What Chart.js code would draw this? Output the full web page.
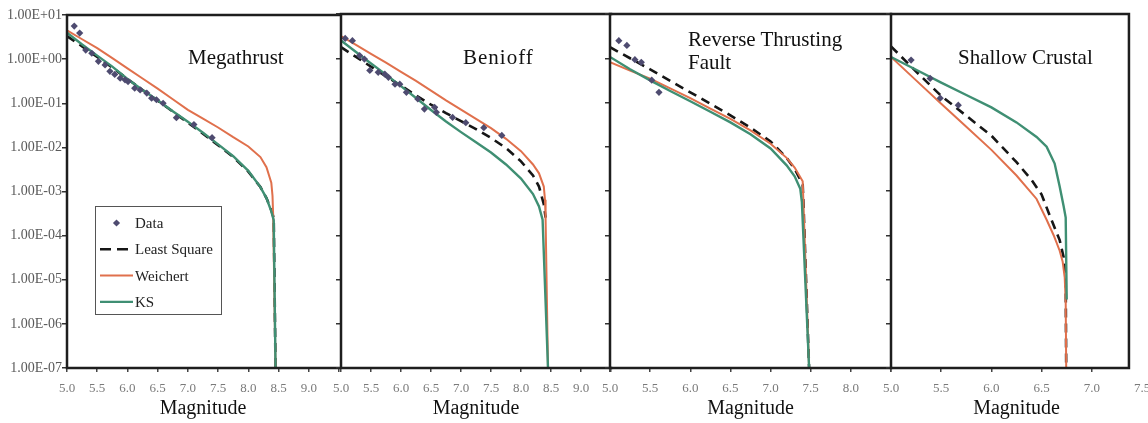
<!DOCTYPE html>
<html><head><meta charset="utf-8">
<script src="https://cdn.jsdelivr.net/npm/chart.js@4.4.0/dist/chart.umd.min.js"></script>
<style>
html,body{margin:0;padding:0;background:#fff;overflow:hidden;width:1148px;height:423px;}
#wrap{position:relative;width:1148px;height:423px;overflow:hidden;background:#fff;}
canvas{position:absolute;left:0;top:0;}
.ttl{position:absolute;font-family:'Liberation Serif','Times New Roman',serif;font-size:21px;color:#111;line-height:23px;white-space:nowrap;}
</style></head><body>
<div id="wrap">
<canvas id="c1" width="1170" height="423"></canvas>
<canvas id="c2" width="1170" height="423"></canvas>
<canvas id="c3" width="1170" height="423"></canvas>
<canvas id="c4" width="1170" height="423"></canvas>
<div class="ttl" style="left:188px;top:46px">Megathrust</div>
<div class="ttl" style="left:463px;top:46px;letter-spacing:1px">Benioff</div>
<div class="ttl" style="left:688px;top:28px">Reverse Thrusting<br>Fault</div>
<div class="ttl" style="left:958px;top:46px">Shallow Crustal</div>
</div>
<script>
// ---------- tick labels ----------
const yTickValues = [1e-7,1e-6,1e-5,1e-4,1e-3,1e-2,1e-1,1e0,1e1];
const yTickLabels = ['1.00E-07','1.00E-06','1.00E-05','1.00E-04','1.00E-03','1.00E-02','1.00E-01','1.00E+00','1.00E+01'];
const xTicksWide = [5.0,5.5,6.0,6.5,7.0,7.5,8.0,8.5,9.0,9.5];
const xLabelsWide = ['5.0','5.5','6.0','6.5','7.0','7.5','8.0','8.5','9.0',''];
const xTicksRev = [5.0,5.5,6.0,6.5,7.0,7.5,8.0,8.5];
const xLabelsRev = ['5.0','5.5','6.0','6.5','7.0','7.5','8.0',''];
const xTicksShallow = [5.0,5.5,6.0,6.5,7.0,7.5];
const xLabelsShallow = ['5.0','5.5','6.0','6.5','7.0','7.5'];
const seriesNames = ['Data','Least Square','Weichert','KS'];
const xAxisTitle = 'Magnitude';

// ---------- Megathrust ----------
const megaDataMag = [5.12,5.21,5.31,5.41,5.52,5.63,5.71,5.79,5.88,5.96,6.01,6.12,6.21,6.32,6.40,6.48,6.59,6.81,7.10,7.40];
const megaDataRate = [5.6,3.9,1.6,1.36,0.89,0.74,0.53,0.45,0.37,0.34,0.31,0.22,0.20,0.17,0.13,0.12,0.10,0.047,0.033,0.0166];
const megaLsMag = [5.0,5.25,5.5,5.75,6.0,6.25,6.5,6.75,7.0,7.25,7.5,7.75,8.0,8.2,8.3,8.38,8.42,8.45];
const megaLsRate = [3.31,1.95,1.12,0.646,0.355,0.200,0.115,0.0646,0.0363,0.0204,0.0112,0.00603,0.00282,0.00126,0.000708,0.000380,0.000251,1e-7];
const megaWeiMag = [5.0,5.25,5.5,5.75,6.0,6.25,6.5,6.75,7.0,7.25,7.5,7.75,8.0,8.2,8.3,8.38,8.4,8.41,8.45];
const megaWeiRate = [4.47,2.82,1.78,1.05,0.617,0.363,0.214,0.123,0.0708,0.0447,0.0282,0.0170,0.0105,0.00603,0.00355,0.00158,0.000794,0.000316,1e-7];
const megaKsMag = [5.0,5.25,5.5,5.75,6.0,6.25,6.5,6.75,7.0,7.25,7.5,7.75,8.0,8.2,8.3,8.38,8.42,8.45];
const megaKsRate = [3.98,2.14,1.20,0.676,0.355,0.200,0.117,0.0661,0.0380,0.0214,0.0117,0.00631,0.00295,0.00126,0.000708,0.000355,0.000224,1e-7];

// ---------- Benioff ----------
const benDataMag = [5.07,5.19,5.31,5.39,5.48,5.62,5.73,5.79,5.90,5.98,6.09,6.28,6.39,6.56,6.59,6.86,7.08,7.38,7.68];
const benDataRate = [2.8,2.5,1.15,0.96,0.53,0.48,0.44,0.37,0.26,0.26,0.17,0.12,0.071,0.078,0.06,0.046,0.035,0.027,0.018];
const benLsMag = [5.0,5.25,5.5,5.75,6.0,6.25,6.5,6.75,7.0,7.25,7.5,7.75,8.0,8.2,8.3,8.38,8.41];
const benLsRate = [1.78,1.07,0.646,0.389,0.240,0.145,0.0891,0.0575,0.0380,0.0251,0.0158,0.00933,0.00468,0.00224,0.00126,0.000501,0.000251];
const benWeiMag = [5.0,5.25,5.5,5.75,6.0,6.25,6.5,6.75,7.0,7.25,7.5,7.75,8.0,8.2,8.3,8.38,8.4,8.41,8.45];
const benWeiRate = [3.16,2.00,1.26,0.794,0.490,0.309,0.186,0.112,0.0692,0.0427,0.0263,0.0151,0.00794,0.00398,0.00251,0.00126,0.000631,0.000229,1e-7];
const benKsMag = [5.0,5.25,5.5,5.75,6.0,6.25,6.5,6.75,7.0,7.25,7.5,7.75,8.0,8.2,8.3,8.36,8.45];
const benKsRate = [2.51,1.38,0.759,0.427,0.234,0.126,0.0676,0.0372,0.0214,0.0126,0.00741,0.00398,0.00191,0.000851,0.000447,0.000224,1e-7];

// ---------- Reverse Thrusting Fault ----------
const revDataMag = [5.11,5.21,5.31,5.39,5.52,5.61];
const revDataRate = [2.5,1.95,0.93,0.81,0.32,0.17];
const revLsMag = [5.0,5.25,5.5,5.75,6.0,6.25,6.5,6.75,7.0,7.2,7.3,7.4,7.41,7.48];
const revLsRate = [1.78,1.00,0.562,0.309,0.170,0.0933,0.0513,0.0269,0.0132,0.00562,0.00316,0.00141,0.000501,1e-7];
const revWeiMag = [5.0,5.25,5.5,5.75,6.0,6.25,6.5,6.75,7.0,7.2,7.3,7.4,7.41,7.48];
const revWeiRate = [0.813,0.525,0.347,0.209,0.126,0.0724,0.0427,0.0234,0.0117,0.00562,0.00339,0.00166,0.000501,1e-7];
const revKsMag = [5.0,5.25,5.5,5.75,6.0,6.25,6.5,6.75,7.0,7.2,7.3,7.37,7.39,7.48];
const revKsRate = [1.07,0.562,0.316,0.182,0.107,0.0617,0.0355,0.0191,0.00912,0.00380,0.00214,0.00112,0.000562,1e-7];

// ---------- Shallow Crustal ----------
const shaDataMag = [5.2,5.39,5.49,5.67];
const shaDataRate = [0.91,0.35,0.125,0.087];
const shaLsMag = [5.0,5.25,5.5,5.75,6.0,6.25,6.4,6.5,6.58,6.68,6.72,6.74,6.745];
const shaLsRate = [1.85,0.501,0.141,0.0501,0.0178,0.00447,0.00178,0.000832,0.000282,7.76e-5,3.16e-5,1e-5,1e-7];
const shaWeiMag = [5.0,5.25,5.5,5.75,6.0,6.25,6.45,6.55,6.62,6.68,6.71,6.73,6.74,6.745];
const shaWeiRate = [1.07,0.316,0.0933,0.0282,0.00851,0.00224,0.000661,0.000224,0.0001,4.47e-5,2.51e-5,1.12e-5,3.16e-6,1e-7];
const shaKsMag = [5.0,5.25,5.5,5.75,6.0,6.25,6.45,6.55,6.63,6.68,6.72,6.74,6.75];
const shaKsRate = [1.07,0.550,0.282,0.148,0.0776,0.0355,0.0166,0.0100,0.00417,0.00126,0.000447,0.000251,3.55e-6];

// ---------- styling ----------
const COL = {data:'#4e4b70', ls:'#161616', wei:'#e0704c', ks:'#3f8f73', axis:'#1e1e1e'};
const SERIF = "'Liberation Serif','Times New Roman',serif";
const pts = (m, v) => m.map((x, i) => ({x, y: v[i]}));

function datasets(dm, dr, lm, lr, wm, wr, km, kr) {
  return [
    {label: seriesNames[0], data: pts(dm, dr), showLine: false, pointStyle: 'rectRot', pointRadius: 3.6,
     backgroundColor: COL.data, borderWidth: 0, order: 0},
    {label: seriesNames[3], data: pts(km, kr), showLine: true, borderColor: COL.ks, borderWidth: 2.4,
     pointRadius: 0, tension: 0, order: 1},
    {label: seriesNames[2], data: pts(wm, wr), showLine: true, borderColor: COL.wei, borderWidth: 2,
     pointRadius: 0, tension: 0, order: 2},
    {label: seriesNames[1], data: pts(lm, lr), showLine: true, borderColor: COL.ls, borderWidth: 2.6,
     borderDash: [9, 6], pointRadius: 0, tension: 0, order: 3}
  ];
}

const framePlugin = {
  id: 'frame',
  afterDatasetsDraw(chart, args, opts) {
    const {ctx, chartArea: a, scales: {x}} = chart;
    const r = opts.rightValue != null ? x.getPixelForValue(opts.rightValue) : a.right;
    ctx.save();
    ctx.strokeStyle = COL.axis; ctx.lineWidth = 2.5; ctx.lineCap = 'square';
    ctx.beginPath();
    ctx.moveTo(r, a.top); ctx.lineTo(a.left, a.top); ctx.lineTo(a.left, a.bottom); ctx.lineTo(r, a.bottom);
    if (opts.drawRight) { ctx.moveTo(r, a.top); ctx.lineTo(r, a.bottom); }
    ctx.stroke();
    ctx.restore();
  }
};

const legendPlugin = {
  id: 'boxLegend',
  afterDraw(chart, args, opts) {
    if (!opts.show) return;
    const {ctx, chartArea: a} = chart;
    const x0 = a.left + 28, y0 = a.top + 191, w = 126, h = 108;
    ctx.save();
    ctx.fillStyle = '#fff'; ctx.fillRect(x0, y0, w, h);
    ctx.strokeStyle = '#555'; ctx.lineWidth = 1; ctx.strokeRect(x0 + 0.5, y0 + 0.5, w, h);
    ctx.font = '15px ' + SERIF; ctx.textBaseline = 'middle'; ctx.fillStyle = '#222';
    seriesNames.forEach((name, i) => {
      const ds = chart.data.datasets.find(d => d.label === name);
      const cy = y0 + 17 + i * 26.3;
      const sx0 = x0 + 5, sx1 = x0 + 38;
      if (ds.showLine === false) {
        ctx.save(); ctx.fillStyle = ds.backgroundColor;
        ctx.beginPath(); const cx = (sx0 + sx1) / 2, r = 3.6;
        ctx.moveTo(cx, cy - r); ctx.lineTo(cx + r, cy); ctx.lineTo(cx, cy + r); ctx.lineTo(cx - r, cy); ctx.closePath(); ctx.fill();
        ctx.restore();
      } else {
        ctx.save(); ctx.strokeStyle = ds.borderColor; ctx.lineWidth = ds.borderWidth;
        ctx.setLineDash(ds.borderDash ? [11, 6] : []);
        ctx.beginPath(); ctx.moveTo(sx0, cy); ctx.lineTo(sx1, cy); ctx.stroke(); ctx.restore();
      }
      ctx.fillStyle = '#222';
      ctx.fillText(name, x0 + 40, cy + 1);
    });
    ctx.restore();
  }
};

function makeChart(id, o) {
  const xTicks = o.xTicks, xLabels = o.xLabels;
  new Chart(document.getElementById(id), {
    type: 'scatter',
    data: {datasets: o.ds},
    options: {
      responsive: false, animation: false, devicePixelRatio: 1,
      layout: {padding: {left: o.padLeft, right: 1170 - o.right, top: o.top, bottom: 0}},
      plugins: {legend: {display: false}, tooltip: {enabled: false},
        frame: {rightValue: o.frameRight, drawRight: o.drawRight},
        boxLegend: {show: o.legend}},
      scales: {
        x: {type: 'linear', min: xTicks[0], max: xTicks[xTicks.length - 1],
          afterBuildTicks: s => { s.ticks = xTicks.map(v => ({value: v})); },
          afterFit: s => { s.height = 55; },
          border: {display: false},
          grid: {display: true, drawOnChartArea: false, drawTicks: true, tickLength: 4, lineWidth: 1.5,
            tickColor: c => (o.frameRight != null && c.tick && c.tick.value > o.frameRight) ? 'rgba(0,0,0,0)' : '#444'},
          ticks: {autoSkip: false, maxRotation: 0, padding: 9, color: '#7a7a7a',
            font: {family: SERIF, size: 13}, callback: (v, i) => xLabels[i]},
          title: {display: true, text: xAxisTitle, color: '#111', font: {family: SERIF, size: 20},
            padding: {top: 0, bottom: 2}}
        },
        y: {type: 'logarithmic', min: 1e-7, max: 10,
          afterBuildTicks: s => { s.ticks = yTickValues.map(v => ({value: v})); },
          afterFit: s => { s.width = o.yWidth; },
          border: {display: false},
          grid: {display: true, drawOnChartArea: false, drawTicks: true, tickLength: 5, tickColor: '#333', lineWidth: 1.5},
          ticks: {display: o.yLabels, autoSkip: false, padding: 0, color: '#5a5a5a',
            font: {family: SERIF, size: 14}, callback: (v, i) => yTickLabels[i]}
        }
      }
    },
    plugins: [framePlugin, legendPlugin]
  });
}

makeChart('c1', {padLeft: 0, yWidth: 67, right: 339, top: 15, yLabels: true, legend: true,
  xTicks: xTicksWide, xLabels: xLabelsWide,
  ds: datasets(megaDataMag, megaDataRate, megaLsMag, megaLsRate, megaWeiMag, megaWeiRate, megaKsMag, megaKsRate)});
makeChart('c2', {padLeft: 329, yWidth: 12, right: 611, top: 14, yLabels: false, legend: false,
  xTicks: xTicksWide, xLabels: xLabelsWide,
  ds: datasets(benDataMag, benDataRate, benLsMag, benLsRate, benWeiMag, benWeiRate, benKsMag, benKsRate)});
makeChart('c3', {padLeft: 598, yWidth: 12, right: 891, top: 14, yLabels: false, legend: false,
  xTicks: xTicksRev, xLabels: xLabelsRev,
  ds: datasets(revDataMag, revDataRate, revLsMag, revLsRate, revWeiMag, revWeiRate, revKsMag, revKsRate)});
makeChart('c4', {padLeft: 879, yWidth: 12, right: 1142, top: 14, yLabels: false, legend: false,
  xTicks: xTicksShallow, xLabels: xLabelsShallow, frameRight: 7.37, drawRight: true,
  ds: datasets(shaDataMag, shaDataRate, shaLsMag, shaLsRate, shaWeiMag, shaWeiRate, shaKsMag, shaKsRate)});
</script>
</body></html>
